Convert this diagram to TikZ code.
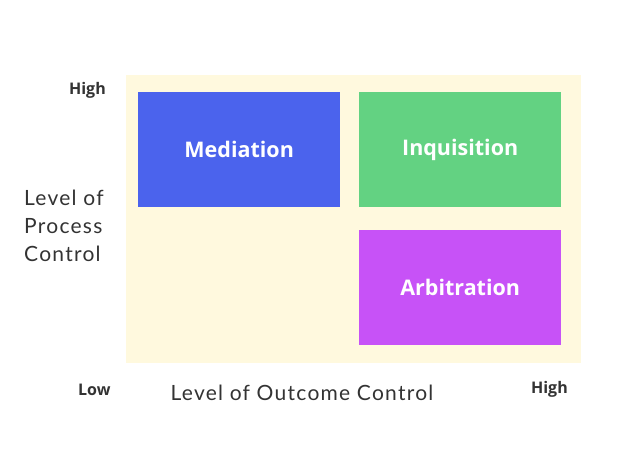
\documentclass[tikz,border=0pt]{standalone}
\usepackage{fontspec}
\setmainfont{Open Sans}
\newfontfamily\axisfont{Lato}[LetterSpace=6]
\definecolor{cream}{HTML}{FFF9DE}
\definecolor{medblue}{HTML}{4B63ED}
\definecolor{inqgreen}{HTML}{63D282}
\definecolor{arbpurple}{HTML}{C752F7}
\definecolor{txt}{HTML}{333333}
\begin{document}
\begin{tikzpicture}[x=1pt,y=-1pt,
  quad/.style={minimum width=202pt,minimum height=115pt,inner sep=0pt,anchor=north west,text=white,font=\fontsize{21.5}{24}\selectfont\bfseries},
  endlabel/.style={text=txt,font=\fontsize{16}{18}\selectfont\bfseries,inner sep=0pt},
  axislabel/.style={text=txt,font=\axisfont\fontsize{21}{28}\selectfont,inner sep=0pt}]
\useasboundingbox (0,0) rectangle (619,463);
\fill[white] (0,0) rectangle (619,463);
\node[fill=cream,minimum width=455pt,minimum height=288pt,inner sep=0pt,anchor=north west] (bg) at (126,75) {};
\node[quad,fill=medblue] (med) at (138,92) {Mediation};
\node[quad,fill=inqgreen] (inq) at (359,92) {Inquisition};
\node[quad,fill=arbpurple] (arb) at (359,230) {Arbitration};
\node[endlabel,anchor=east] (yhigh) at (106,90) {High};
\node[axislabel,anchor=west,align=left] (ylab) at (24,226) {Level of\\Process\\Control};
\node[endlabel,anchor=west] (xlow) at (78,390) {Low};
\node[axislabel,anchor=center] (xlab) at (302,393) {Level of Outcome Control};
\node[endlabel,anchor=east] (xhigh) at (568,389) {High};
\end{tikzpicture}
\end{document}
